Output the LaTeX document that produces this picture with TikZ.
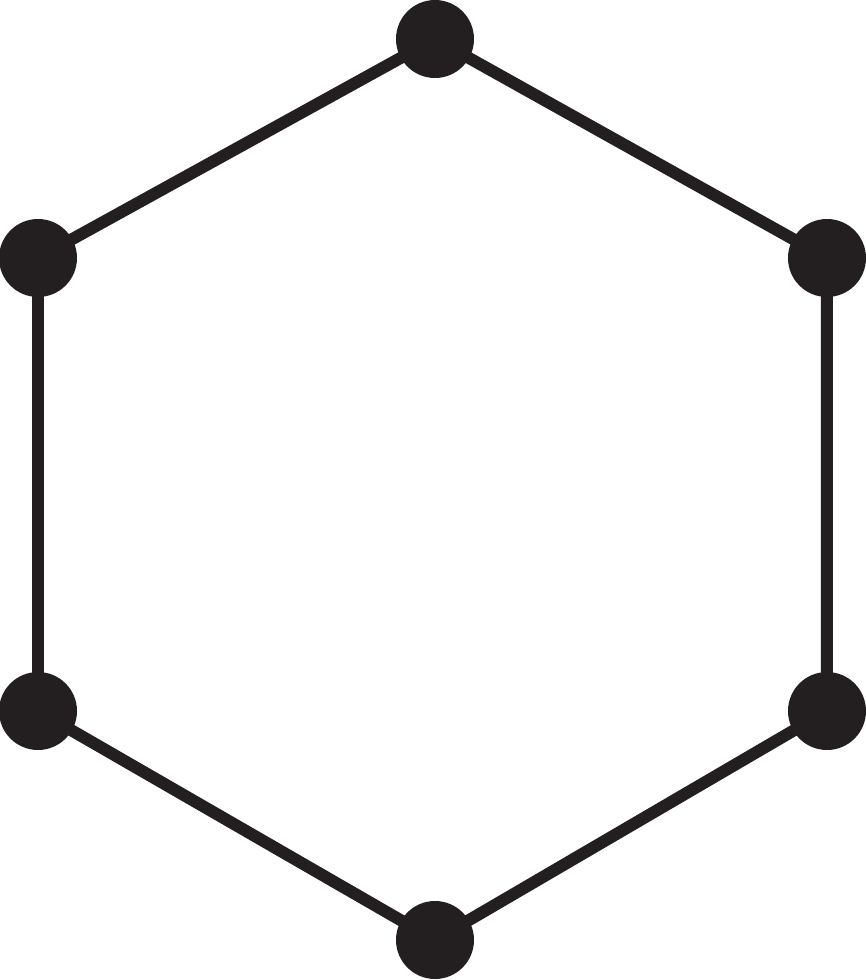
\documentclass[tikz,border=0pt]{standalone}
\usepackage{tikz}
\usetikzlibrary{backgrounds}
\definecolor{ink}{HTML}{231F20}

\begin{document}
\begin{tikzpicture}
  \pgfmathsetmacro{\xl}{0.38};
  \pgfmathsetmacro{\xm}{4.35};
  \pgfmathsetmacro{\xr}{8.27};

  \useasboundingbox (0, 0) rectangle (8.66, 9.80);

  \tikzset{dot/.style={circle, fill=ink, inner sep=0pt, minimum size=0.78cm}}

  \node[dot] (T) at (\xm, 9.41) {};
  \node[dot] (UR) at (\xr, 7.22) {};
  \node[dot] (LR) at (\xr, 2.69) {};
  \node[dot] (B) at (\xm, 0.40) {};
  \node[dot] (LL) at (\xl, 2.69) {};
  \node[dot] (UL) at (\xl, 7.22) {};

  \begin{scope}[on background layer]
    \draw[color=ink, line width=0.12cm] (T.center) -- (UR.center) -- (LR.center) -- (B.center) -- (LL.center) -- (UL.center) -- cycle;
  \end{scope}
\end{tikzpicture}
\end{document}
